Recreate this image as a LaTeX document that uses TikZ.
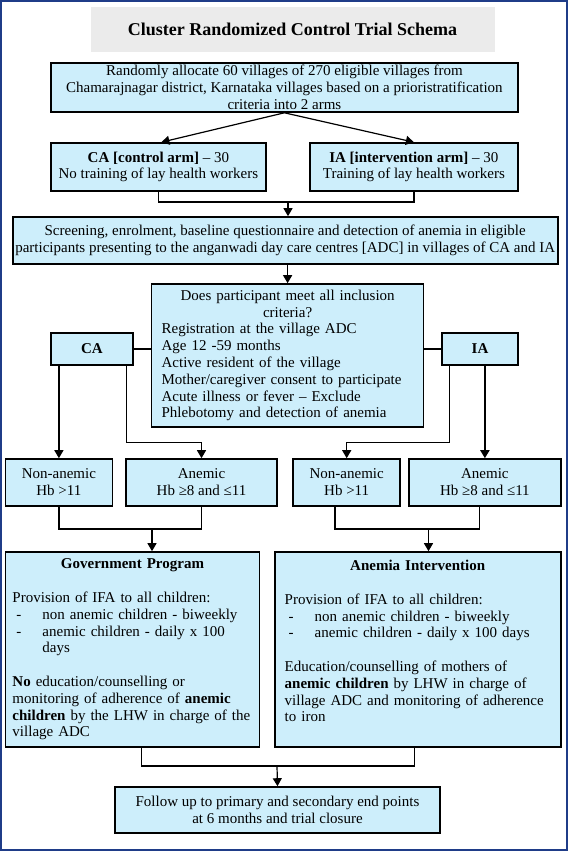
\documentclass[tikz,border=0pt]{standalone}
\usepackage{fontspec}
\setmainfont{Liberation Serif}
\usetikzlibrary{arrows.meta}
\definecolor{boxblue}{HTML}{CDEEFB}
\definecolor{titlegray}{HTML}{EBEBEB}
\definecolor{framenavy}{HTML}{1F3C88}
\newcommand{\dashitem}{\hspace*{4pt}\makebox[26pt][l]{-}}

\begin{document}
\begin{tikzpicture}[x=1pt, y=-1pt, >={Triangle[length=8pt,width=9pt]}, line width=1.2pt,
                    main node/.style={rectangle,draw,fill=boxblue,line width=1.6pt,align=center,
                                      font=\fontsize{15}{16.8}\selectfont,inner sep=0pt},
                    text node/.style={main node,align=left,inner xsep=10pt}]
  \useasboundingbox (0,0) rectangle (568,851);
  \draw[framenavy,line width=2pt] (1,1) rectangle (567,850);

  \node[fill=titlegray,minimum width=404pt,minimum height=45pt,
        font=\fontsize{18}{20}\selectfont\bfseries] (title) at (292.5,29.5)
    {Cluster Randomized Control Trial Schema};

  \node[main node,minimum width=467pt,minimum height=49pt] (alloc) at (284.4,87.5)
    {Randomly allocate 60 villages of 270 eligible villages from\\
     Chamarajnagar district, Karnataka villages based on a prioristratification\\
     criteria into 2 arms};
  \node[main node,minimum width=215pt,minimum height=48pt] (ca) at (158.4,167)
    {\textbf{CA [control arm]} -- 30\\No training of lay health workers};
  \node[main node,minimum width=208pt,minimum height=48pt] (ia) at (413.9,167)
    {\textbf{IA [intervention arm]} -- 30\\Training of lay health workers};
  \node[main node,minimum width=545pt,minimum height=47pt] (screen) at (285.2,240.5)
    {Screening, enrolment, baseline questionnaire and detection of anemia in eligible\\
     participants presenting to the anganwadi day care centres [ADC] in villages of CA and IA};
  \node[text node,text width=252pt,minimum height=143pt] (crit) at (287.6,355.5)
    {{\centering Does participant meet all inclusion\\criteria?\par}
     Registration at the village ADC\\
     Age 12 -59 months\\
     Active resident of the village\\
     Mother/caregiver consent to participate\\
     Acute illness or fever -- Exclude\\
     Phlebotomy and detection of anemia};
  \node[main node,minimum width=82pt,minimum height=32pt] (ca2) at (91.9,349) {\textbf{CA}};
  \node[main node,minimum width=76pt,minimum height=32pt] (ia2) at (480,349) {\textbf{IA}};

  \node[main node,minimum width=107pt,minimum height=47pt] (na1) at (58.9,482.5)
    {Non-anemic\\Hb >11};
  \node[main node,minimum width=151pt,minimum height=47pt] (an1) at (201.5,482.5)
    {Anemic\\Hb ≥8 and ≤11};
  \node[main node,minimum width=107pt,minimum height=47pt] (na2) at (346.7,482.5)
    {Non-anemic\\Hb >11};
  \node[main node,minimum width=152pt,minimum height=47pt] (an2) at (484.9,482.5)
    {Anemic\\Hb ≥8 and ≤11};

  \node[text node,inner xsep=7pt,text width=240pt,minimum height=195pt] (gov) at (132.5,649.5)
    {{\centering\textbf{Government Program}\par}
     \mbox{}\\
     Provision of IFA to all children:\\
     \dashitem non anemic children - biweekly\\
     \dashitem anemic children - daily x 100\\
     \hspace*{30pt}days\\
     \mbox{}\\
     \textbf{No} education/counselling or\\
     monitoring of adherence of \textbf{anemic}\\
     \textbf{children} by the LHW in charge of the\\
     village ADC};
  \node[text node,text width=266pt,minimum height=195pt] (int) at (417.7,649.5)
    {{\centering\textbf{Anemia Intervention}\par}
     \mbox{}\\
     Provision of IFA to all children:\\
     \dashitem non anemic children - biweekly\\
     \dashitem anemic children - daily x 100 days\\
     \mbox{}\\
     Education/counselling of mothers of\\
     \textbf{anemic children} by LHW in charge of\\
     village ADC and monitoring of adherence\\
     to iron\\
     \mbox{}};

  \node[main node,minimum width=325pt,minimum height=46pt] (fup) at (277.5,810)
    {Follow up to primary and secondary end points\\at 6 months and trial closure};

  % arms
  \draw[->] (alloc.south) -- ([xshift=3pt]ca.north);
  \draw[->] (alloc.south) -- (ia.north);
  \coordinate (j1) at (288,202);
  \draw (ca.south) |- (j1) -| (ia.south);
  \draw[->] (j1) -- (j1 |- screen.north);
  \draw[->] (screen.south -| crit.north) -- (crit.north);
  \draw (ca2.east) -- (ca2.east -| crit.west);
  \draw (crit.east |- ia2.west) -- (ia2.west);

  % anemia status
  \draw[->] (ca2.south -| na1.north) -- (na1.north);
  \draw[->] ([xshift=-7pt]ca2.south east) -- ++(0,77) -| (an1.north);
  \draw[->] ([xshift=8pt]ia2.south west) -- ++(0,77) -| (na2.north);
  \draw[->,line width=2.2pt] (ia2.south -| an2.north) -- (an2.north);

  \coordinate (j2) at (152,529);
  \draw (na1.south) |- (j2) -| (an1.south);
  \draw[->] (j2) -- (j2 |- gov.north);
  \coordinate (j3) at (428.5,529);
  \draw ([xshift=-11.7pt]na2.south) |- (j3) -| ([xshift=-5.6pt]an2.south);
  \draw[->] (j3) -- (j3 |- int.north);

  % follow up
  \coordinate (j4) at (277,766);
  \draw ([xshift=8.8pt]gov.south) |- (j4) -| ([xshift=-2.9pt]int.south);
  \draw[->] (j4) -- (fup.north);
\end{tikzpicture}
\end{document}
